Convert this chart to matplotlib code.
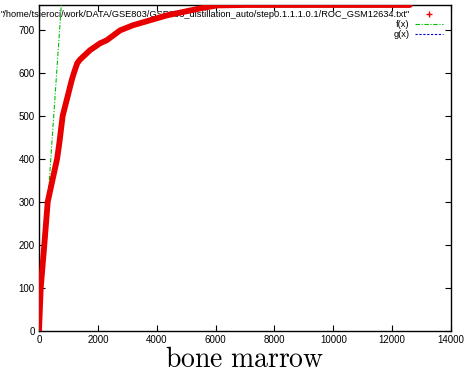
import matplotlib.pyplot as plt
import numpy as np

plt.rcParams['font.family'] = ['Liberation Sans', 'DejaVu Sans']
plt.rcParams['mathtext.fontset'] = 'cm'

# ROC curve read from ROC_GSM12634.txt
roc_x = [0, 58, 180, 296, 615, 690, 805, 940, 1110, 1190, 1300, 1390, 1733,
         2073, 2300, 2752, 3194, 4350, 5470, 6050, 7000, 12600]
roc_y = [0, 100, 200, 300, 400, 436, 500, 536, 582, 600, 622, 630, 652,
         668, 675, 698, 710, 733, 749, 756, 757, 757]

data_label = '"/home/tsieroci/work/DATA/GSE803/GSE803_distillation_auto/step0.1.1.1.0.1/ROC_GSM12634.txt"'
x_max = 14000
y_max = 757
x_ticks = [0, 2000, 4000, 6000, 8000, 10000, 12000, 14000]
y_ticks = [0, 100, 200, 300, 400, 500, 600, 700]

fig = plt.figure(figsize=(4.65, 3.78), dpi=100)
ax = fig.add_axes([0.0839, 0.1243, 0.886, 0.8625])

ax.plot(roc_x, roc_y, color='#e80000', lw=4.2, solid_capstyle='round',
        solid_joinstyle='round', zorder=4, label=data_label)
fx = np.array([0, y_max])
ax.plot(fx, fx, color='#00c000', lw=0.8, ls=(0, (4, 1.5, 1, 1.5)),
        zorder=3, label='f(x)')
ax.plot([], [], color='#0000d0', lw=0.8, ls=(0, (2, 1.5)), label='g(x)')

ax.set_xlim(0, x_max)
ax.set_ylim(0, y_max)
ax.set_xticks(x_ticks)
ax.set_yticks(y_ticks)
ax.tick_params(direction='in', top=True, right=True, length=4, width=0.8,
               labelsize=7, pad=3)
for s in ax.spines.values():
    s.set_linewidth(1.0)

handles, labels = ax.get_legend_handles_labels()
handles[0] = plt.Line2D([], [], color='#e80000', marker='+', ls='none',
                        markersize=5, markeredgewidth=1)
leg = ax.legend(handles, labels, loc='upper right', frameon=False,
                markerfirst=False, fontsize=6.7, labelspacing=0.12,
                handlelength=3.0, handletextpad=0.6,
                bbox_to_anchor=(0.99, 0.996), borderaxespad=0.0)
leg.set_zorder(2)
for t in leg.get_texts():
    t.set_horizontalalignment('right')
leg._legend_box.align = 'right'

ax.set_xlabel(r'$\mathrm{bone\ marrow}$', fontsize=20, labelpad=1)

fig.savefig('out.png', dpi=100)
